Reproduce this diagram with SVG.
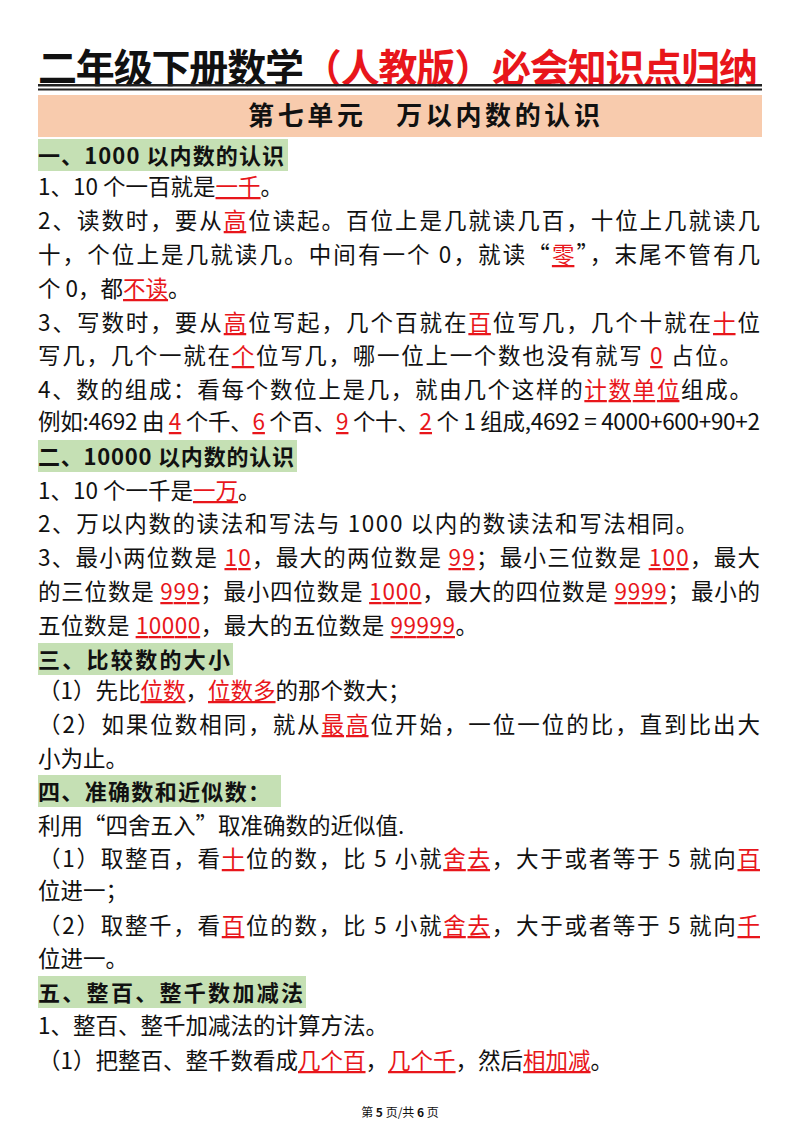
<svg xmlns="http://www.w3.org/2000/svg" width="800" height="1132" viewBox="0 0 800 1132">
<style>
text{font-family:"Noto Sans CJK SC","Liberation Sans",sans-serif;fill:#111}
.b{font-size:22.5px}
.r{fill:#e8161b;text-decoration:underline}
.h{font-size:22px;font-weight:bold}
.g{fill:#c5e0b4}
</style>
<rect width="800" height="1132" fill="#fff"/>
<text x="38" y="82" font-size="39" font-weight="bold" textLength="720">二年级下册数学<tspan fill="#e8161b">（人教版）必会知识点归纳</tspan></text>
<rect x="38" y="84" width="724" height="2.5" fill="#222"/>
<rect x="38" y="88.5" width="724" height="2" fill="#222"/>
<rect x="38" y="95" width="724" height="42" fill="#f8cbad"/>
<text x="248" y="125" font-size="26" font-weight="bold" textLength="352">第七单元　万以内数的认识</text>
<rect class="g" x="38" y="139" width="250" height="32"/>
<text class="h" x="38" y="164" textLength="246">一、1000 以内数的认识</text>
<g class="b">
<text x="38" y="195">1、10 个一百就是<tspan class="r">一千</tspan>。</text>
<text x="38" y="229" textLength="722">2、读数时，要从<tspan class="r">高</tspan>位读起。百位上是几就读几百，十位上几就读几</text>
<text x="38" y="263" textLength="722">十，个位上是几就读几。中间有一个 0，就读“<tspan class="r">零</tspan>”，末尾不管有几</text>
<text x="38" y="297">个 0，都<tspan class="r">不读</tspan>。</text>
<text x="38" y="331" textLength="722">3、写数时，要从<tspan class="r">高</tspan>位写起，几个百就在<tspan class="r">百</tspan>位写几，几个十就在<tspan class="r">十</tspan>位</text>
<text x="38" y="364" textLength="704">写几，几个一就在<tspan class="r">个</tspan>位写几，哪一位上一个数也没有就写 <tspan class="r">0</tspan> 占位。</text>
<text x="38" y="398" textLength="714">4、数的组成：看每个数位上是几，就由几个这样的<tspan class="r">计数单位</tspan>组成。</text>
<text x="38" y="430" textLength="722">例如:4692 由 <tspan class="r">4</tspan> 个千、<tspan class="r">6</tspan> 个百、<tspan class="r">9</tspan> 个十、<tspan class="r">2</tspan> 个 1 组成,4692 = 4000+600+90+2</text>
</g>
<rect class="g" x="38" y="440" width="259" height="32"/>
<text class="h" x="38" y="465" textLength="256">二、10000 以内数的认识</text>
<g class="b">
<text x="38" y="499">1、10 个一千是<tspan class="r">一万</tspan>。</text>
<text x="38" y="532" textLength="660">2、万以内数的读法和写法与 1000 以内的数读法和写法相同。</text>
<text x="38" y="566" textLength="722">3、最小两位数是 <tspan class="r">10</tspan>，最大的两位数是 <tspan class="r">99</tspan>；最小三位数是 <tspan class="r">100</tspan>，最大</text>
<text x="38" y="600" textLength="722">的三位数是 <tspan class="r">999</tspan>；最小四位数是 <tspan class="r">1000</tspan>，最大的四位数是 <tspan class="r">9999</tspan>；最小的</text>
<text x="38" y="634" textLength="440">五位数是 <tspan class="r">10000</tspan>，最大的五位数是 <tspan class="r">99999</tspan>。</text>
</g>
<rect class="g" x="38" y="643" width="195" height="32"/>
<text class="h" x="38" y="668" textLength="192">三、比较数的大小</text>
<g class="b">
<text x="38" y="699">（1）先比<tspan class="r">位数</tspan>，<tspan class="r">位数多</tspan>的那个数大；</text>
<text x="38" y="733" textLength="722">（2）如果位数相同，就从<tspan class="r">最高</tspan>位开始，一位一位的比，直到比出大</text>
<text x="38" y="767">小为止。</text>
</g>
<rect class="g" x="38" y="775" width="243" height="32"/>
<text class="h" x="38" y="800" textLength="232">四、准确数和近似数：</text>
<g class="b">
<text x="38" y="834">利用“四舍五入”取准确数的近似值.</text>
<text x="38" y="867" textLength="722">（1）取整百，看<tspan class="r">十</tspan>位的数，比 5 小就<tspan class="r">舍去</tspan>，大于或者等于 5 就向<tspan class="r">百</tspan></text>
<text x="38" y="899">位进一；</text>
<text x="38" y="934" textLength="722">（2）取整千，看<tspan class="r">百</tspan>位的数，比 5 小就<tspan class="r">舍去</tspan>，大于或者等于 5 就向<tspan class="r">千</tspan></text>
<text x="38" y="967">位进一。</text>
</g>
<rect class="g" x="38" y="976" width="268" height="32"/>
<text class="h" x="38" y="1001" textLength="265">五、整百、整千数加减法</text>
<g class="b">
<text x="38" y="1034">1、整百、整千加减法的计算方法。</text>
<text x="38" y="1069">（1）把整百、整千数看成<tspan class="r">几个百</tspan>，<tspan class="r">几个千</tspan>，然后<tspan class="r">相加减</tspan>。</text>
</g>
<text x="400" y="1117" font-size="12" text-anchor="middle">第 <tspan font-weight="bold">5</tspan> 页/共 <tspan font-weight="bold">6</tspan> 页</text>
</svg>
